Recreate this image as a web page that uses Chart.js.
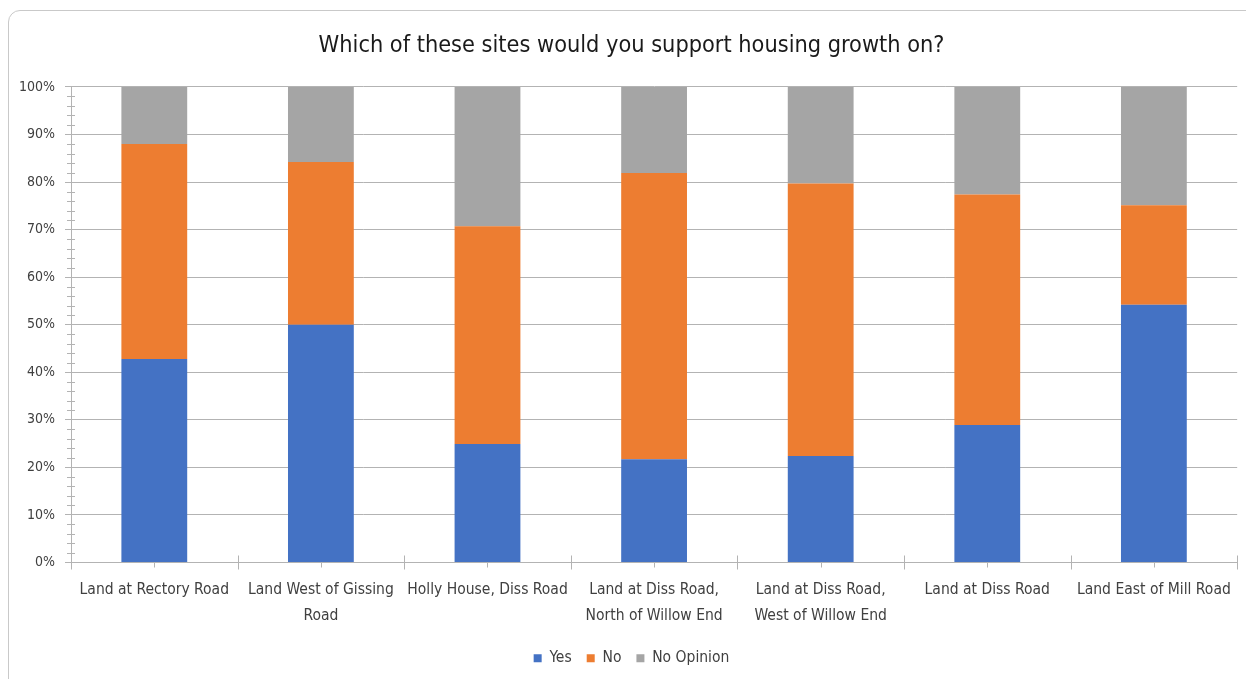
<!DOCTYPE html>
<html>
<head>
<meta charset="utf-8">
<script src="https://cdn.jsdelivr.net/npm/chart.js@4"></script>
<style>
    html, body { margin: 0; padding: 0; background: #ffffff; overflow: hidden; }
    #wrap { position: relative; width: 1246px; height: 679px; }
    #frame {
        position: absolute; left: 8px; top: 10px; width: 1300px; height: 720px;
        border: 1.5px solid #c9c9c9; border-radius: 12px; box-sizing: border-box;
    }
    #chart { position: absolute; left: 0; top: 0; }
</style>
</head>
<body>
<div id="wrap">
    <div id="frame"></div>
    <canvas id="chart" width="1246" height="679"></canvas>
</div>
<script>
// Chart data
const categories = [
    'Land at Rectory Road',
    ['Land West of Gissing', 'Road'],
    'Holly House, Diss Road',
    ['Land at Diss Road,', 'North of Willow End'],
    ['Land at Diss Road,', 'West of Willow End'],
    'Land at Diss Road',
    'Land East of Mill Road'
];
const yesValues = [42.8, 50.0, 24.9, 21.7, 22.4, 28.9, 54.2];
const noValues = [45.2, 34.2, 45.8, 60.2, 57.3, 48.5, 20.9];
const noOpinionValues = [12.0, 15.8, 29.3, 18.1, 20.3, 22.6, 24.9];
const yTicks = [0, 10, 20, 30, 40, 50, 60, 70, 80, 90, 100];

const fontFamily = "'Liberation Sans Narrow', 'DejaVu Sans Condensed', sans-serif";
const axisColor = '#b3b3b3';

// Excel-style minor tick marks on both axes
const tickMarks = {
    id: 'tickMarks',
    afterDraw(chart) {
        const ctx = chart.ctx;
        const x = chart.scales.x;
        const y = chart.scales.y;
        ctx.save();
        ctx.strokeStyle = axisColor;
        ctx.lineWidth = 1;
        ctx.beginPath();
        // minor y ticks every 2%
        for (let v = 2; v < 100; v += 2) {
            if (v % 10 === 0) continue;
            const py = Math.round(y.getPixelForValue(v)) + 0.5;
            ctx.moveTo(x.left - 4, py);
            ctx.lineTo(x.left + 4, py);
        }
        // x ticks between categories (crossing the axis)
        for (let i = 0; i <= categories.length; i++) {
            const px = Math.round(x.getPixelForValue(i - 0.5)) + 0.5;
            ctx.moveTo(px, y.bottom - 7);
            ctx.lineTo(px, y.bottom + 7);
        }
        // small ticks at category centres
        categories.forEach((c, i) => {
            const px = Math.round(x.getPixelForValue(i)) + 0.5;
            ctx.moveTo(px, y.bottom);
            ctx.lineTo(px, y.bottom + 5);
        });
        ctx.stroke();
        ctx.restore();
    }
};

new Chart(document.getElementById('chart'), {
    type: 'bar',
    data: {
        labels: categories,
        datasets: [
            { label: 'Yes', data: yesValues, backgroundColor: '#4472c4' },
            { label: 'No', data: noValues, backgroundColor: '#ed7d31' },
            { label: 'No Opinion', data: noOpinionValues, backgroundColor: '#a5a5a5' }
        ]
    },
    options: {
        responsive: false,
        animation: false,
        devicePixelRatio: 1,
        layout: { padding: { left: 20, right: 3, top: 10, bottom: 3 } },
        datasets: {
            bar: { categoryPercentage: 1, barPercentage: 0.395 }
        },
        plugins: {
            title: {
                display: true,
                text: 'Which of these sites would you support housing growth on?',
                color: '#1a1a1a',
                font: { family: fontFamily, size: 23.3, weight: 'normal' },
                padding: { top: 22, bottom: 27 }
            },
            legend: {
                position: 'bottom',
                labels: {
                    boxWidth: 8,
                    boxHeight: 8,
                    padding: 15,
                    color: '#404040',
                    font: { family: fontFamily, size: 15.5 }
                }
            },
            tooltip: { enabled: false }
        },
        scales: {
            x: {
                stacked: true,
                grid: { display: false, drawTicks: false },
                border: { color: axisColor, width: 1 },
                ticks: {
                    color: '#404040',
                    padding: 15,
                    maxRotation: 0,
                    autoSkip: false,
                    font: { family: fontFamily, size: 15.5, lineHeight: 1.65 }
                },
                afterFit(scale) { scale.height = 73; }
            },
            y: {
                stacked: true,
                min: 0,
                max: 100,
                afterBuildTicks(scale) { scale.ticks = yTicks.map(v => ({ value: v })); },
                grid: { color: axisColor, lineWidth: 1, tickLength: 6 },
                border: { color: axisColor, width: 1 },
                ticks: {
                    color: '#404040',
                    padding: 10,
                    font: { family: fontFamily, size: 14 },
                    callback: v => v + '%'
                },
                afterFit(scale) { scale.width = 51; }
            }
        }
    },
    plugins: [tickMarks]
});
</script>
</body>
</html>
